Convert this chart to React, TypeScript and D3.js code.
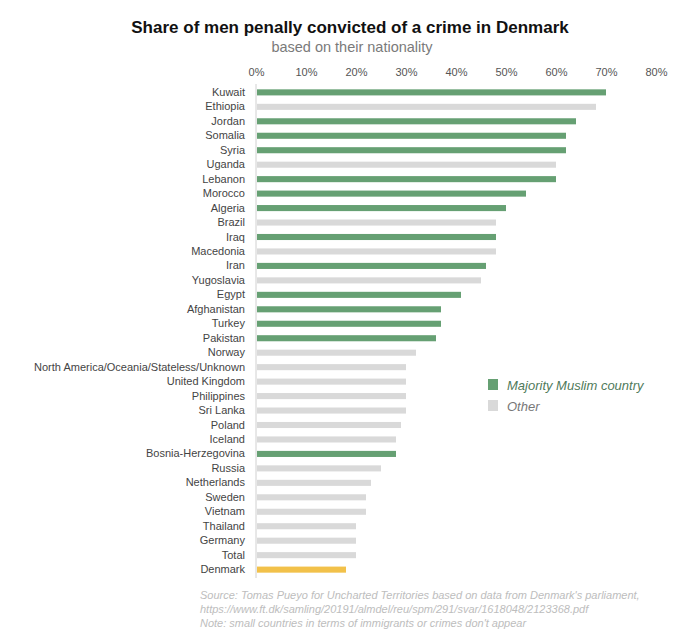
import React, { useEffect, useRef } from 'react';
import * as d3 from 'd3';

// categories top to bottom
const countries = [
  'Kuwait', 'Ethiopia', 'Jordan', 'Somalia', 'Syria', 'Uganda', 'Lebanon', 'Morocco',
  'Algeria', 'Brazil', 'Iraq', 'Macedonia', 'Iran', 'Yugoslavia', 'Egypt', 'Afghanistan',
  'Turkey', 'Pakistan', 'Norway', 'North America/Oceania/Stateless/Unknown', 'United Kingdom',
  'Philippines', 'Sri Lanka', 'Poland', 'Iceland', 'Bosnia-Herzegovina', 'Russia',
  'Netherlands', 'Sweden', 'Vietnam', 'Thailand', 'Germany', 'Total', 'Denmark',
];

// share convicted, %
const shares = [
  70, 68, 64, 62, 62, 60, 60, 54,
  50, 48, 48, 48, 46, 45, 41, 37,
  37, 36, 32, 30, 30,
  30, 30, 29, 28, 28, 25,
  23, 22, 22, 20, 20, 20, 18,
];

// m = majority muslim, o = other, d = denmark
const groups = [
  'm', 'o', 'm', 'm', 'm', 'o', 'm', 'm',
  'm', 'o', 'm', 'o', 'm', 'o', 'm', 'm',
  'm', 'm', 'o', 'o', 'o',
  'o', 'o', 'o', 'o', 'm', 'o',
  'o', 'o', 'o', 'o', 'o', 'o', 'd',
];

const ticks = [0, 10, 20, 30, 40, 50, 60, 70, 80];

const legendLabels = ['Majority Muslim country', 'Other'];

const sourceLines = [
  "Source: Tomas Pueyo for Uncharted Territories based on data from Denmark's parliament,",
  'https://www.ft.dk/samling/20191/almdel/reu/spm/291/svar/1618048/2123368.pdf',
  "Note: small countries in terms of immigrants or crimes don't appear",
];

const colors: Record<string, string> = { m: '#66a073', o: '#d9d9d9', d: '#f2c14a' };

const FONT = '"Helvetica Neue", "Liberation Sans", Arial, sans-serif';

const App = () => {
  const svgRef = useRef<SVGSVGElement>(null);

  useEffect(() => {
    const svg = d3.select(svgRef.current);
    svg.selectAll('*').remove();

    const width = 700;
    const left = 256;
    const right = 656;

    const x = d3.scaleLinear().domain([0, 80]).range([left, right]);
    const y = d3.scaleBand()
      .domain(countries)
      .range([85, 577])
      .paddingInner(0.58)
      .paddingOuter(0.3);

    const data = countries.map((c, i) => ({ c, v: shares[i], g: groups[i] }));

    // title
    svg.append('text')
      .attr('x', width / 2)
      .attr('y', 33)
      .attr('text-anchor', 'middle')
      .style('font-family', FONT)
      .style('font-weight', 'bold')
      .style('font-size', '17px')
      .attr('fill', '#111')
      .text('Share of men penally convicted of a crime in Denmark');

    svg.append('text')
      .attr('x', 352)
      .attr('y', 52)
      .attr('text-anchor', 'middle')
      .style('font-family', FONT)
      .style('font-size', '14.5px')
      .attr('fill', '#7a7a7a')
      .text('based on their nationality');

    // top axis
    const xAxis = svg.append('g')
      .attr('transform', 'translate(0,76)')
      .call(d3.axisTop(x).tickValues(ticks).tickFormat(d => `${d}%`).tickSize(0).tickPadding(0));
    xAxis.select('.domain').remove();
    xAxis.selectAll('text')
      .style('font-family', FONT)
      .style('font-size', '11px')
      .attr('fill', '#555');

    // left axis
    const yAxis = svg.append('g')
      .attr('transform', `translate(${left},0)`)
      .call(d3.axisLeft(y).tickSize(0).tickPadding(11));
    yAxis.select('.domain')
      .attr('stroke', '#d0d0d0')
      .attr('d', 'M0,84V578');
    yAxis.selectAll('text')
      .style('font-family', FONT)
      .style('font-size', '11px')
      .attr('fill', '#444');

    // bars
    svg.append('g')
      .selectAll('rect')
      .data(data)
      .enter().append('rect')
      .attr('x', x(0) + 1)
      .attr('y', d => y(d.c)!)
      .attr('width', d => x(d.v) - x(0) - 1)
      .attr('height', y.bandwidth())
      .attr('fill', d => colors[d.g]);

    // legend
    const legend = svg.append('g')
      .attr('transform', 'translate(488,379)')
      .selectAll('g')
      .data(['m', 'o'])
      .enter().append('g')
      .attr('transform', (d, i) => `translate(0,${i * 21})`);

    legend.append('rect')
      .attr('width', 10)
      .attr('height', 11)
      .attr('fill', d => colors[d]);

    legend.append('text')
      .attr('x', 19)
      .attr('y', 6)
      .attr('dy', '0.35em')
      .style('font-family', FONT)
      .style('font-style', 'italic')
      .style('font-size', '13px')
      .attr('fill', (d) => (d === 'm' ? '#4f7a5a' : '#777'))
      .text((d, i) => legendLabels[i]);

    // source notes
    svg.append('g')
      .selectAll('text')
      .data(sourceLines)
      .enter().append('text')
      .attr('x', 200)
      .attr('y', (d, i) => 599 + i * 14)
      .style('font-family', FONT)
      .style('font-style', 'italic')
      .style('font-size', '11px')
      .attr('fill', '#bdbdbd')
      .text(d => d);
  }, []);

  return (
    <svg ref={svgRef} width={700} height={636}
      style={{ position: 'absolute', left: 0, top: 0, background: '#fff' }} />
  );
};

export default App;
